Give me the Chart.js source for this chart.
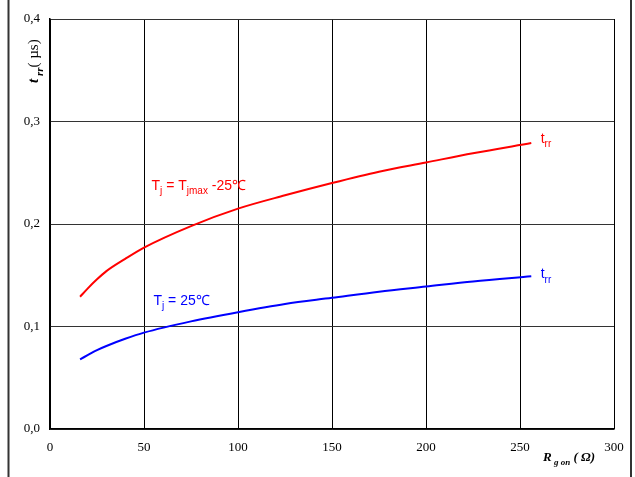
<!DOCTYPE html>
<html>
<head>
<meta charset="utf-8">
<script src="https://cdn.jsdelivr.net/npm/chart.js@4.4.1/dist/chart.umd.min.js"></script>
<style>
  html, body { margin: 0; padding: 0; background: #fff; }
  #wrap { width: 635px; height: 477px; }
</style>
</head>
<body>
<div id="wrap"><canvas id="trrChart" width="635" height="477"></canvas></div>
<script>
// gate resistance (ohm)
var rgon = [16, 20, 25, 30, 40, 50, 75, 100, 125, 150, 175, 200, 225, 256];
// reverse recovery time (us), Tj = Tjmax - 25
var trrHot = [0.129, 0.137, 0.146, 0.154, 0.166, 0.177, 0.198, 0.215, 0.228, 0.240, 0.251, 0.260, 0.269, 0.279];
// reverse recovery time (us), Tj = 25
var trrCold = [0.068, 0.072, 0.077, 0.081, 0.088, 0.094, 0.105, 0.114, 0.122, 0.128, 0.134, 0.139, 0.144, 0.149];

var xTicks = [0, 50, 100, 150, 200, 250, 300];
var yTicks = [0, 0.1, 0.2, 0.3, 0.4];

function toPoints(xs, ys) {
    return xs.map(function (x, i) { return { x: x, y: ys[i] }; });
}

// draw text with subscript pieces: parts = [[text, isSub], ...]
function drawRich(ctx, x, y, parts, size, family, weight) {
    var cx = x;
    parts.forEach(function (p) {
        var sub = p[1];
        var fs = sub ? Math.round(size * 0.72) : size;
        ctx.font = (weight || '') + ' ' + fs + 'px ' + family;
        ctx.fillText(p[0], cx, sub ? y + size * 0.3 : y);
        cx += ctx.measureText(p[0]).width;
    });
    return cx;
}

var SANS = '"Liberation Sans", Arial, sans-serif';
var SERIF = '"Liberation Serif", "Times New Roman", serif';

var labelsPlugin = {
    id: 'labelsPlugin',
    afterDraw: function (chart) {
        var ctx = chart.ctx;
        var xs = chart.scales.x, ys = chart.scales.y;
        ctx.save();
        ctx.textBaseline = 'alphabetic';
        ctx.textAlign = 'left';

        // page frame
        ctx.strokeStyle = '#333';
        ctx.lineWidth = 2;
        ctx.beginPath();
        ctx.moveTo(8.5, 0); ctx.lineTo(8.5, 477);
        ctx.moveTo(631, 0); ctx.lineTo(631, 477);
        ctx.stroke();

        // curve annotations
        ctx.fillStyle = '#ff0000';
        drawRich(ctx, xs.getPixelForValue(54), ys.getPixelForValue(0.233),
            [['T', false], ['j', true], [' = T', false], ['jmax', true], [' -25\u2103', false]], 14, SANS);
        drawRich(ctx, xs.getPixelForValue(261), ys.getPixelForValue(0.279),
            [['t', false], ['rr', true]], 14, SANS);

        ctx.fillStyle = '#0000ff';
        drawRich(ctx, xs.getPixelForValue(55), ys.getPixelForValue(0.121),
            [['T', false], ['j', true], [' = 25\u2103', false]], 14, SANS);
        drawRich(ctx, xs.getPixelForValue(261), ys.getPixelForValue(0.147),
            [['t', false], ['rr', true]], 14, SANS);

        // axis titles
        ctx.fillStyle = '#000';
        drawRich(ctx, 543, 461,
            [['R', false], [' g on', true], [' ( ', false], ['\u03A9', false], [')', false]],
            13, SERIF, 'italic bold');

        ctx.translate(38, 83);
        ctx.rotate(-Math.PI / 2);
        var end = drawRich(ctx, 0, 0, [['t', false], [' rr', true]], 15, SERIF, 'italic bold');
        ctx.font = '15px ' + SERIF;
        ctx.fillText('( \u00B5s)', end, 0);
        ctx.restore();
    }
};

var ctx = document.getElementById('trrChart');
var myChart = new Chart(ctx, {
    type: 'line',
    data: {
        datasets: [
            {
                data: toPoints(rgon, trrHot),
                borderColor: '#ff0000',
                borderWidth: 2,
                pointRadius: 0,
                cubicInterpolationMode: 'monotone',
                fill: false
            },
            {
                data: toPoints(rgon, trrCold),
                borderColor: '#0000ff',
                borderWidth: 2,
                pointRadius: 0,
                cubicInterpolationMode: 'monotone',
                fill: false
            }
        ]
    },
    options: {
        responsive: false,
        animation: false,
        layout: { padding: { left: 0, right: 21, top: 19, bottom: 0 } },
        plugins: {
            legend: { display: false },
            tooltip: { enabled: false }
        },
        scales: {
            x: {
                type: 'linear',
                min: 0,
                max: 300,
                afterBuildTicks: function (s) { s.ticks = xTicks.map(function (v) { return { value: v }; }); },
                afterFit: function (s) { s.height = 48; },
                grid: { color: '#000', lineWidth: 1, drawTicks: false },
                border: { color: '#000', width: 1.5 },
                ticks: {
                    padding: 11,
                    color: '#000',
                    font: { family: SERIF, size: 13 }
                }
            },
            y: {
                min: 0,
                max: 0.4,
                afterBuildTicks: function (s) { s.ticks = yTicks.map(function (v) { return { value: v }; }); },
                afterFit: function (s) { s.width = 50; },
                grid: { color: '#333', lineWidth: 1, drawTicks: false },
                border: { color: '#000', width: 1.5 },
                ticks: {
                    padding: 10,
                    color: '#000',
                    font: { family: SERIF, size: 13 },
                    callback: function (v) { return v.toFixed(1).replace('.', ','); }
                }
            }
        }
    },
    plugins: [labelsPlugin]
});
</script>
</body>
</html>
